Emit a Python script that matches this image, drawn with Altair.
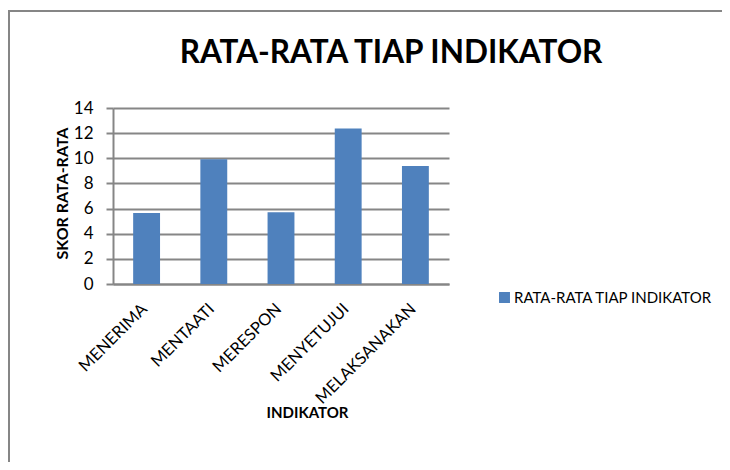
import altair as alt
import pandas as pd

categories = ["MENERIMA", "MENTAATI", "MERESPON", "MENYETUJUI", "MELAKSANAKAN"]
values = [5.65, 9.92, 5.70, 12.36, 9.39]
series_name = "RATA-RATA TIAP INDIKATOR"
chart_title = "RATA-RATA TIAP INDIKATOR"
y_ticks = [0, 2, 4, 6, 8, 10, 12, 14]

df = pd.DataFrame({
    "INDIKATOR": categories,
    "SKOR": values,
    "SERIES": [series_name] * len(categories),
})

FONT = "Lato"
GRAY = "#868686"
BLUE = "#4F81BD"

bars = alt.Chart(df).mark_bar().encode(
    x=alt.X(
        "INDIKATOR:N",
        sort=categories,
        scale=alt.Scale(paddingInner=0.6, paddingOuter=0.3),
        axis=alt.Axis(
            title="INDIKATOR",
            labelAngle=-45,
            labelAlign="right",
            labelBaseline="middle",
            labelFont=FONT,
            labelFontSize=16.5,
            labelColor="#000000",
            labelPadding=22,
            labelOffset=-2,
            labelLimit=0,
            ticks=False,
            domainColor=GRAY,
            domainWidth=2,
            titleFont=FONT,
            titleFontSize=15,
            titleFontWeight="bold",
            titleColor="#000000",
            titleX=194,
            titleY=128,
            titleBaseline="middle",
            titleAlign="center",
        ),
    ),
    y=alt.Y(
        "SKOR:Q",
        scale=alt.Scale(domain=[0, 14], nice=False),
        axis=alt.Axis(
            title="SKOR RATA-RATA",
            values=y_ticks,
            labelFont=FONT,
            labelFontSize=17,
            labelColor="#000000",
            labelPadding=13,
            tickSize=7,
            tickColor=GRAY,
            tickWidth=2,
            domainColor=GRAY,
            domainWidth=2,
            gridColor=GRAY,
            gridWidth=2,
            titleFont=FONT,
            titleFontSize=16,
            titleFontWeight="bold",
            titleColor="#000000",
            titleAngle=-90,
            titleX=-51,
            titleY=85,
            titleBaseline="middle",
            titleAlign="center",
        ),
    ),
    color=alt.Color(
        "SERIES:N",
        scale=alt.Scale(range=[BLUE]),
        legend=alt.Legend(
            title=None,
            orient="none",
            legendX=384,
            legendY=182,
            symbolType="square",
            symbolSize=120,
            symbolStrokeWidth=0,
            labelFont=FONT,
            labelFontSize=15,
            labelColor="#000000",
            labelOffset=2,
            labelLimit=0,
        ),
    ),
)

border = alt.Chart(pd.DataFrame({"b": [0]})).mark_rect(
    filled=False, stroke=GRAY, strokeWidth=2
).encode(
    x=alt.value(-104),
    x2=alt.value(720),
    y=alt.value(-97),
    y2=alt.value(500),
)

title = alt.Chart(pd.DataFrame({"t": [chart_title]})).mark_text(
    font=FONT,
    fontSize=31.5,
    fontWeight="bold",
    color="#000000",
    align="center",
    baseline="alphabetic",
).encode(
    text="t:N",
    x=alt.value(278),
    y=alt.value(-45),
)

chart = alt.layer(border, title, bars).properties(
    width=336,
    height=176,
    autosize="none",
    padding={"left": 105, "top": 100, "right": 273, "bottom": 178},
).configure_view(stroke=None)

chart.save("out.html", embed_options={"renderer": "svg", "actions": False})
